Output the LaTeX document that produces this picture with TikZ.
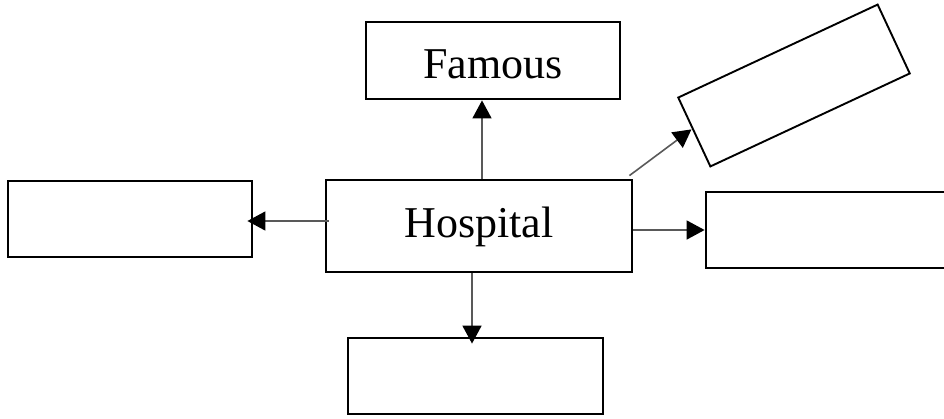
\documentclass[tikz,border=0pt]{standalone}
\usepackage{fontspec}
\setmainfont{Liberation Serif}
\usetikzlibrary{arrows.meta}
\begin{document}
\begin{tikzpicture}[x=1pt,y=-1pt,
  box/.style={draw=black,line width=2.8pt,inner sep=0pt,font=\fontsize{44}{48}\selectfont},
  rotbox/.style={draw=black,line width=1.9pt,inner sep=0pt},
  arr/.style={draw=black!65,line width=1.6pt,-{Triangle[length=18pt,width=19pt,fill=black,color=black]}}]
\useasboundingbox (0,0) rectangle (944,418);
\clip (0,0) rectangle (944,418);
\node[box,minimum width=306pt,minimum height=92pt,text height=31pt,text depth=9pt] (hosp) at (479,226) {Hospital};
\node[box,minimum width=254pt,minimum height=77pt,text height=35pt,text depth=0pt] (famous) at (493,60.5) {Famous};
\node[box,minimum width=244pt,minimum height=76pt] (left) at (130,219) {};
\node[box,minimum width=254pt,minimum height=76pt] (right) at (833,230) {};
\node[box,minimum width=255pt,minimum height=76pt] (bottom) at (475.5,376) {};
\node[rotbox,minimum width=220pt,minimum height=76pt,rotate=25] (rot) at (794,85.5) {};
\draw[arr] ([xshift=3pt]hosp.north) -- ([xshift=3pt]hosp.north |- famous.south);
\draw[arr] ([shift={(4,-5)}]hosp.west) -- ([shift={(-6,2)}]left.east);
\draw[arr] (hosp.east |- right.west) -- (right.west);
\draw[arr] ([xshift=-7pt]hosp.south) -- ([shift={(-3.5,7)}]bottom.north);
\draw[arr] ([shift={(-4,-3)}]hosp.north east) -- ([shift={(-2,-3)}]rot.west);
\end{tikzpicture}
\end{document}
